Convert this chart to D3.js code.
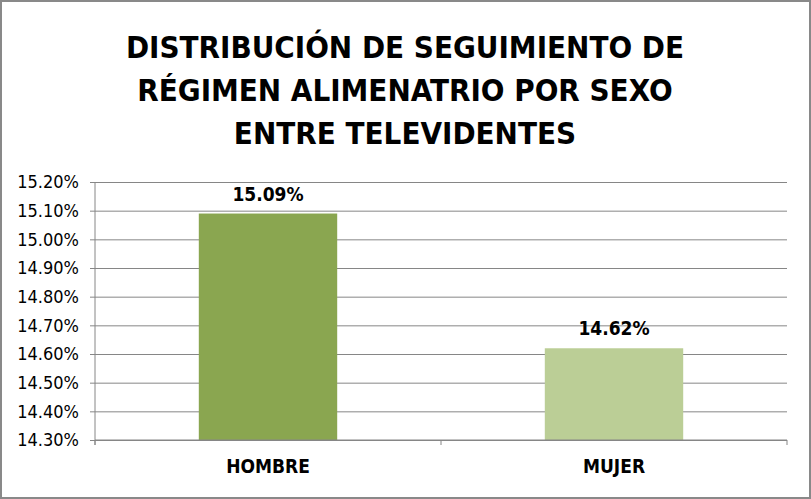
<!DOCTYPE html>
<html>
<head>
<meta charset="utf-8">
<script src="https://cdn.jsdelivr.net/npm/d3@7"></script>
<style>
  body { margin: 0; background: #fff; }
  svg { display: block; }
</style>
</head>
<body>
<svg width="811" height="499"></svg>
<script>
const titleLines = ['DISTRIBUCIÓN DE SEGUIMIENTO DE', 'RÉGIMEN ALIMENATRIO POR SEXO', 'ENTRE TELEVIDENTES'];
const categories = ['HOMBRE', 'MUJER'];
const values = [15.09, 14.62];
const barColors = ['#8aa650', '#bbce96'];
const yTicks = [14.3, 14.4, 14.5, 14.6, 14.7, 14.8, 14.9, 15.0, 15.1, 15.2];

const font = "'DejaVu Sans Condensed', sans-serif";
const svg = d3.select('svg');

// frame
svg.append('rect')
  .attr('x', 1).attr('y', 1)
  .attr('width', 809).attr('height', 497)
  .attr('fill', '#fff')
  .attr('stroke', '#898989')
  .attr('stroke-width', 2);

svg.append('g')
  .selectAll('text')
  .data(titleLines)
  .enter()
  .append('text')
  .attr('x', 405)
  .attr('y', (d, i) => 58 + i * 43)
  .attr('text-anchor', 'middle')
  .style('font-family', font)
  .style('font-weight', 'bold')
  .style('font-size', '31px')
  .text(d => d);

const plotL = 95, plotR = 787, plotT = 182, plotB = 440;

const xScale = d3.scaleBand()
  .domain(categories)
  .range([plotL, plotR])
  .paddingInner(0.6)
  .paddingOuter(0.3);

const yScale = d3.scaleLinear()
  .domain([14.3, 15.2])
  .range([plotB, plotT]);

// gridlines + y labels
const yAxis = d3.axisLeft(yScale)
  .tickValues(yTicks)
  .tickSize(-(plotR - plotL))
  .tickPadding(16)
  .tickFormat(d => d.toFixed(2) + '%');

const yG = svg.append('g')
  .attr('transform', 'translate(' + plotL + ',0)')
  .call(yAxis);
yG.select('.domain').remove();
yG.selectAll('line').attr('stroke', '#868686').attr('x1', -5);
yG.selectAll('text')
  .style('font-family', font)
  .style('font-size', '18px')
  .attr('fill', '#000');

// y axis line
svg.append('line')
  .attr('x1', plotL).attr('x2', plotL)
  .attr('y1', plotT).attr('y2', plotB + 5)
  .attr('stroke', '#868686');

// bars
svg.selectAll('rect.bar')
  .data(values)
  .enter()
  .append('rect')
  .attr('class', 'bar')
  .attr('x', (d, i) => xScale(categories[i]))
  .attr('y', d => yScale(d))
  .attr('width', xScale.bandwidth())
  .attr('height', d => plotB - yScale(d))
  .attr('fill', (d, i) => barColors[i]);

// x axis
const xAxis = d3.axisBottom(xScale).tickSize(0).tickPadding(20);
const xG = svg.append('g')
  .attr('transform', 'translate(0,' + plotB + ')')
  .call(xAxis);
xG.select('.domain').attr('stroke', '#868686').attr('d', 'M' + plotL + ',0H' + plotR);
xG.selectAll('text')
  .style('font-family', font)
  .style('font-weight', 'bold')
  .style('font-size', '19px')
  .attr('fill', '#000');

// category separators
svg.selectAll('line.sep')
  .data([plotL, plotL + (plotR - plotL) / 2, plotR])
  .enter()
  .append('line')
  .attr('class', 'sep')
  .attr('x1', d => d).attr('x2', d => d)
  .attr('y1', plotB).attr('y2', plotB + 5)
  .attr('stroke', '#868686');

// value labels
svg.selectAll('text.val')
  .data(values)
  .enter()
  .append('text')
  .attr('class', 'val')
  .attr('x', (d, i) => xScale(categories[i]) + xScale.bandwidth() / 2)
  .attr('y', d => yScale(d) - 13)
  .attr('text-anchor', 'middle')
  .style('font-family', font)
  .style('font-weight', 'bold')
  .style('font-size', '19px')
  .text(d => d.toFixed(2) + '%');
</script>
</body>
</html>
